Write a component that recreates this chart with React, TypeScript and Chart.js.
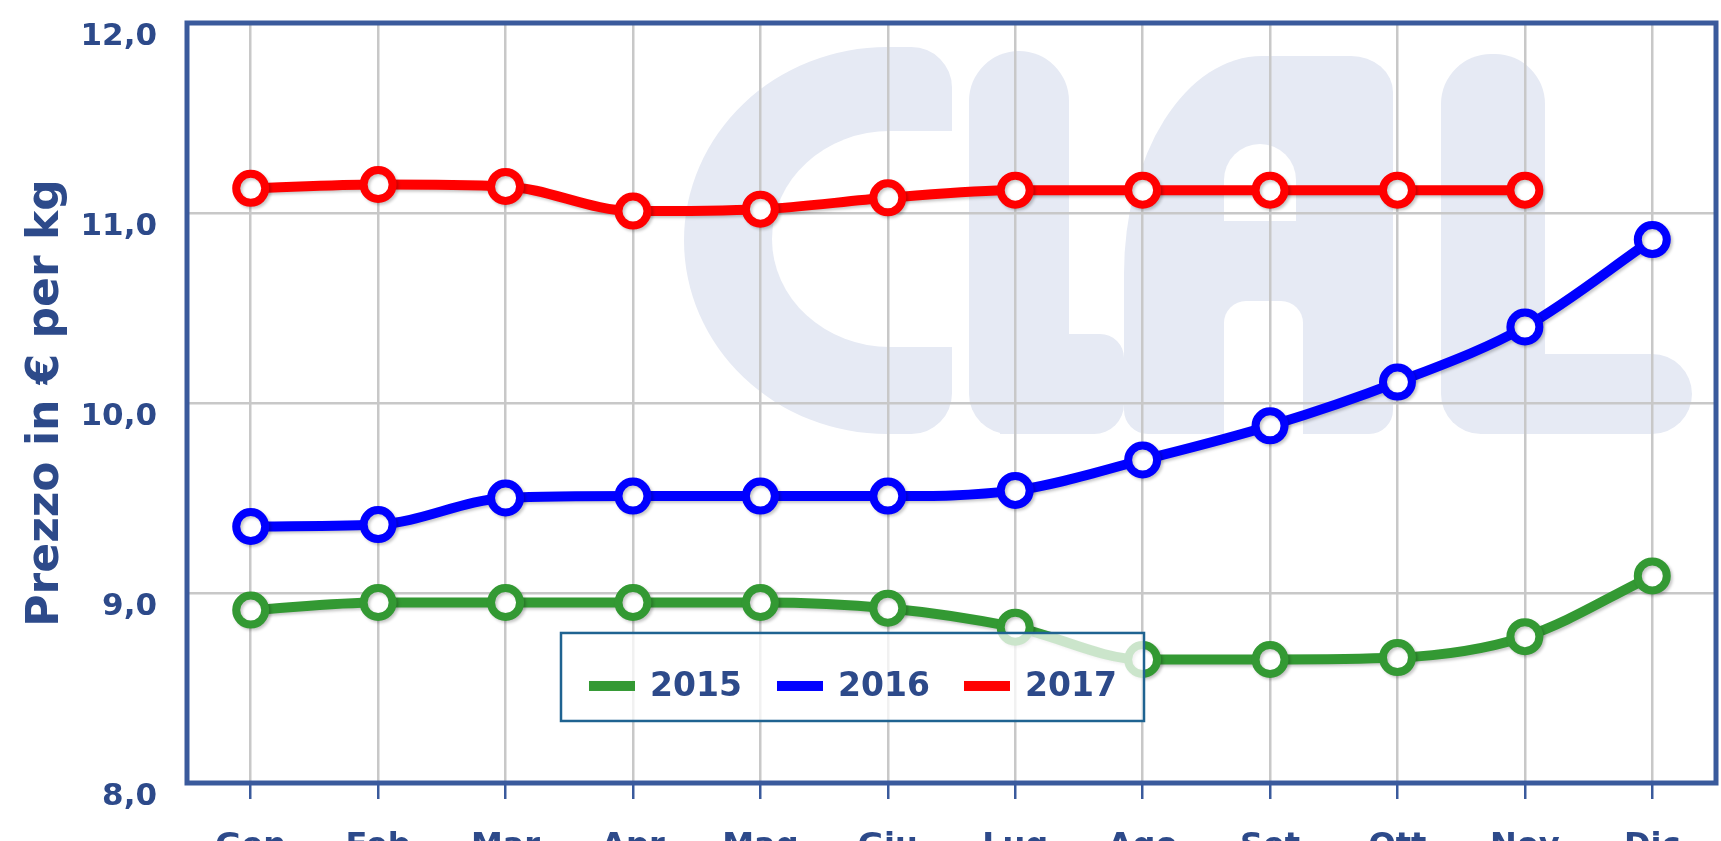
import React, { useEffect, useRef } from 'react';
import { Chart, registerables } from 'chart.js';

Chart.register(...registerables);

const months = ['Gen', 'Feb', 'Mar', 'Apr', 'Mag', 'Giu', 'Lug', 'Ago', 'Set', 'Ott', 'Nov', 'Dic'];
const prices2015 = [8.91, 8.95, 8.95, 8.95, 8.95, 8.92, 8.82, 8.65, 8.65, 8.66, 8.77, 9.09];
const prices2016 = [9.35, 9.36, 9.5, 9.51, 9.51, 9.51, 9.54, 9.7, 9.88, 10.11, 10.4, 10.86];
const prices2017 = [11.13, 11.15, 11.14, 11.01, 11.02, 11.08, 11.12, 11.12, 11.12, 11.12, 11.12, null];
const seriesLabels = ['2015', '2016', '2017'];
const seriesColors = ['#339933', '#0000ff', '#ff0000'];
const yAxisTitle = 'Prezzo in € per kg';

const TEXT_COLOR = '#2d4a8a';
const FRAME_COLOR = '#3a5a9c';
const WM_COLOR = '#e6eaf4';
const FONT = '"DejaVu Sans", Verdana, sans-serif';

const W = 1721;
const H = 900;

// reference plot frame (used to place the decorative watermark proportionally)
const REF_L = 187;
const REF_T = 23;
const REF_W = 1529;
const REF_H = 760;

export default function App() {
  const ref = useRef<HTMLCanvasElement | null>(null);

  useEffect(() => {
    document.body.style.margin = '0';
    const canvas = ref.current;
    if (!canvas) return;

    const decorPlugin = {
      id: 'decor',
      beforeDraw(chart: any) {
        const { ctx, chartArea } = chart;
        const { left, top, right, bottom } = chartArea;
        const w = right - left;
        const h = bottom - top;
        const X = (px: number) => left + ((px - REF_L) / REF_W) * w;
        const Y = (py: number) => top + ((py - REF_T) / REF_H) * h;
        const sx = w / REF_W;
        const sy = h / REF_H;
        const rr = (x0: number, y0: number, x1: number, y1: number, radii: any[], color: string) => {
          ctx.fillStyle = color;
          ctx.beginPath();
          const r = radii.map((q: any) =>
            typeof q === 'number' ? { x: q * sx, y: q * sy } : { x: q.x * sx, y: q.y * sy }
          );
          ctx.roundRect(X(x0), Y(y0), X(x1) - X(x0), Y(y1) - Y(y0), r);
          ctx.fill();
        };
        ctx.save();
        ctx.beginPath();
        ctx.rect(left, top, w, h);
        ctx.clip();
        // "C"
        rr(684, 47, 952, 434, [{ x: 210, y: 200 }, 42, 42, { x: 210, y: 200 }], WM_COLOR);
        rr(772, 131, 1075, 347, [{ x: 118, y: 108 }, 0, 0, { x: 118, y: 108 }], '#ffffff');
        // first "L"
        rr(969, 51, 1069, 434, [50, 50, 0, 40], WM_COLOR);
        rr(1000, 334, 1124, 434, [0, 24, 30, 0], WM_COLOR);
        // "A"
        rr(1124, 56, 1393, 434, [{ x: 138, y: 218 }, { x: 42, y: 36 }, 24, 24], WM_COLOR);
        rr(1224, 144, 1296, 221, [36, 36, 0, 0], '#ffffff');
        rr(1224, 301, 1303, 440, [22, 22, 0, 0], '#ffffff');
        // second "L"
        rr(1441, 54, 1545, 434, [50, 50, 0, 40], WM_COLOR);
        rr(1480, 354, 1692, 434, [0, 40, 40, 0], WM_COLOR);
        ctx.restore();
      },
      beforeDatasetDraw(chart: any) {
        const ctx = chart.ctx;
        ctx.save();
        ctx.shadowColor = 'rgba(0,0,0,0.22)';
        ctx.shadowBlur = 3;
        ctx.shadowOffsetX = 2;
        ctx.shadowOffsetY = 2;
      },
      afterDatasetDraw(chart: any) {
        chart.ctx.restore();
      },
      afterDraw(chart: any) {
        const { ctx, chartArea } = chart;
        const { left, top, right, bottom } = chartArea;
        const w = right - left;
        const h = bottom - top;
        ctx.save();
        ctx.strokeStyle = FRAME_COLOR;
        ctx.lineWidth = 5;
        ctx.strokeRect(left, top, w, h);

        // legend box (floating inside the plot)
        const lx = left + 0.2446 * w;
        const ly = top + 0.8026 * h;
        const lw = 0.3813 * w;
        const lh = 0.1158 * h;
        ctx.fillStyle = 'rgba(255,255,255,0.75)';
        ctx.fillRect(lx, ly, lw, lh);
        ctx.strokeStyle = '#1f6391';
        ctx.lineWidth = 2.5;
        ctx.strokeRect(lx, ly, lw, lh);
        const cy = ly + 53;
        const offs = [28, 216, 403];
        ctx.font = `bold 33px ${FONT}`;
        ctx.textAlign = 'left';
        ctx.textBaseline = 'middle';
        seriesLabels.forEach((lab, i) => {
          ctx.fillStyle = seriesColors[i];
          ctx.fillRect(lx + offs[i], cy - 5, 46, 10);
          ctx.fillStyle = TEXT_COLOR;
          ctx.fillText(lab, lx + offs[i] + 61, cy + 1);
        });
        ctx.restore();
      },
    };

    const mk = (label: string, data: (number | null)[], color: string) => ({
      label,
      data,
      borderColor: color,
      backgroundColor: color,
      borderWidth: 10,
      pointRadius: 14.5,
      pointBorderWidth: 8,
      pointBackgroundColor: '#ffffff',
      pointBorderColor: color,
      cubicInterpolationMode: 'monotone' as const,
      fill: false,
      spanGaps: false,
      clip: false as const,
    });

    const chart = new Chart(canvas, {
      type: 'line',
      data: {
        labels: months,
        datasets: [
          mk(seriesLabels[0], prices2015, seriesColors[0]),
          mk(seriesLabels[1], prices2016, seriesColors[1]),
          mk(seriesLabels[2], prices2017, seriesColors[2]),
        ],
      },
      options: {
        responsive: false,
        animation: false,
        layout: { autoPadding: false, padding: { left: 8, right: 5, top: 23, bottom: 0 } },
        plugins: {
          legend: { display: false },
          tooltip: { enabled: false },
        },
        scales: {
          x: {
            offset: true,
            border: { display: false },
            grid: {
              color: '#c8c8c8',
              lineWidth: 2.5,
              drawTicks: true,
              tickLength: 16,
              tickColor: FRAME_COLOR,
              tickWidth: 2.5,
            },
            ticks: {
              color: TEXT_COLOR,
              padding: 28,
              font: { family: FONT, size: 32, weight: 'bold' },
              maxRotation: 0,
              autoSkip: false,
            },
            afterFit(scale: any) {
              scale.height = 117;
              scale.paddingLeft = 0;
              scale.paddingRight = 0;
            },
          },
          y: {
            min: 8,
            max: 12,
            border: { display: false },
            grid: { color: '#c8c8c8', lineWidth: 2.5, drawTicks: false },
            ticks: {
              stepSize: 1,
              color: TEXT_COLOR,
              padding: 30,
              labelOffset: 14,
              font: { family: FONT, size: 31, weight: 'bold' },
              callback: (v: any) => Number(v).toFixed(1).replace('.', ','),
            },
            title: {
              display: true,
              text: yAxisTitle,
              color: TEXT_COLOR,
              font: { family: FONT, size: 44, weight: 'bold' },
              padding: { top: 12, bottom: 0 },
            },
            afterFit(scale: any) {
              scale.width = 179;
              scale.paddingTop = 0;
              scale.paddingBottom = 0;
            },
          },
        },
      },
      plugins: [decorPlugin],
    });

    return () => chart.destroy();
  }, []);

  return (
    <div style={{ position: 'absolute', left: 0, top: 0, width: W, height: 841, overflow: 'hidden', background: '#fff' }}>
      <canvas ref={ref} width={W} height={H} style={{ width: W, height: H, display: 'block' }} />
    </div>
  );
}
